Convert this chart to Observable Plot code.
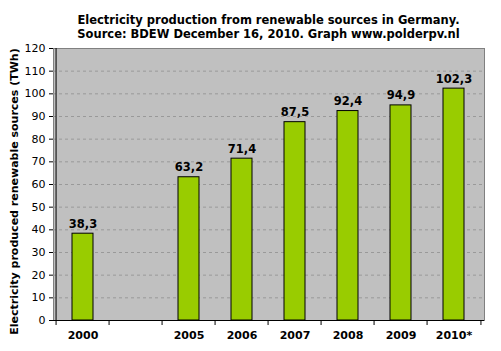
<!DOCTYPE html>
<html><head><meta charset="utf-8">
<script src="https://cdn.jsdelivr.net/npm/d3@7"></script>
<script src="https://cdn.jsdelivr.net/npm/@observablehq/plot@0.6"></script>
<style>
body{margin:0;background:#fff;font-family:"DejaVu Sans",Verdana,sans-serif;}
#title{box-sizing:border-box;width:501px;height:42px;padding:13px 17px 0 53px;text-align:center;font-weight:bold;font-size:11.5px;line-height:14px;color:#000;white-space:nowrap;}
svg{overflow:visible;display:block;}
</style></head><body>
<div id="title">Electricity production from renewable sources in Germany.<br>Source: BDEW December 16, 2010. Graph www.polderpv.nl</div>
<div id="chart"></div>
<script>
const categories = ["2000", " ", "2005", "2006", "2007", "2008", "2009", "2010*"];
const values = [38.3, null, 63.2, 71.4, 87.5, 92.4, 94.9, 102.3];
const yTicks = [0, 10, 20, 30, 40, 50, 60, 70, 80, 90, 100, 110, 120];
const gridTicks = [10, 20, 30, 40, 50, 60, 70, 80, 90, 100, 110];
const yLabel = "Electricity produced renewable sources (TWh)";

const data = categories.map((c, i) => ({year: c, value: values[i]})).filter(d => d.value != null);
const W = 501, H = 309, mL = 53, mR = 17, mT = 6, mB = 31;
const step = (W - mL - mR) / categories.length;
const font = "'DejaVu Sans', Verdana, sans-serif";

const plot = Plot.plot({
  width: W, height: H, marginTop: mT, marginBottom: mB, marginLeft: mL, marginRight: mR,
  style: {fontFamily: font, fontSize: "11px", background: "#fff", color: "#000", overflow: "visible"},
  x: {domain: categories, paddingInner: 0.6, paddingOuter: 0.3, axis: null, label: null},
  y: {domain: [0, 120], axis: null, label: null},
  marks: [
    Plot.frame({fill: "#c0c0c0", stroke: "#808080"}),
    Plot.gridY(gridTicks, {stroke: "#999999", strokeOpacity: 1, strokeDasharray: "3,3"}),
    Plot.barY(data, {x: "year", y: "value", fill: "#99cc00", stroke: "#000", strokeWidth: 1}),
    Plot.text(data, {x: "year", y: "value", text: d => d.value.toFixed(1).replace(".", ","),
      lineAnchor: "bottom", dy: -6, fontWeight: "bold", fontSize: 11.5}),
    Plot.ruleY([0], {stroke: "#000"}),
    Plot.ruleX([categories[0]], {dx: -step / 2, stroke: "#000"}),
    Plot.axisY({ticks: yTicks, tickSize: 4, tickPadding: 4, tickFormat: d => String(d), fontSize: 11, label: null}),
    Plot.axisX({ticks: categories, tickSize: 5, tickFormat: () => "", dx: -step / 2, label: null}),
    Plot.axisX({ticks: [categories[categories.length - 1]], tickSize: 5, tickFormat: () => "", dx: step / 2, label: null}),
    Plot.axisX({ticks: categories, tickSize: 0, tickPadding: 11, fontWeight: "bold", fontSize: 11, label: null}),
    Plot.text([yLabel], {text: d => d, frameAnchor: "left", textAnchor: "middle", rotate: -90, dx: -39, dy: 7,
      fontWeight: "bold", fontSize: 11})
  ]
});
document.getElementById("chart").appendChild(plot);
</script>
</body></html>
